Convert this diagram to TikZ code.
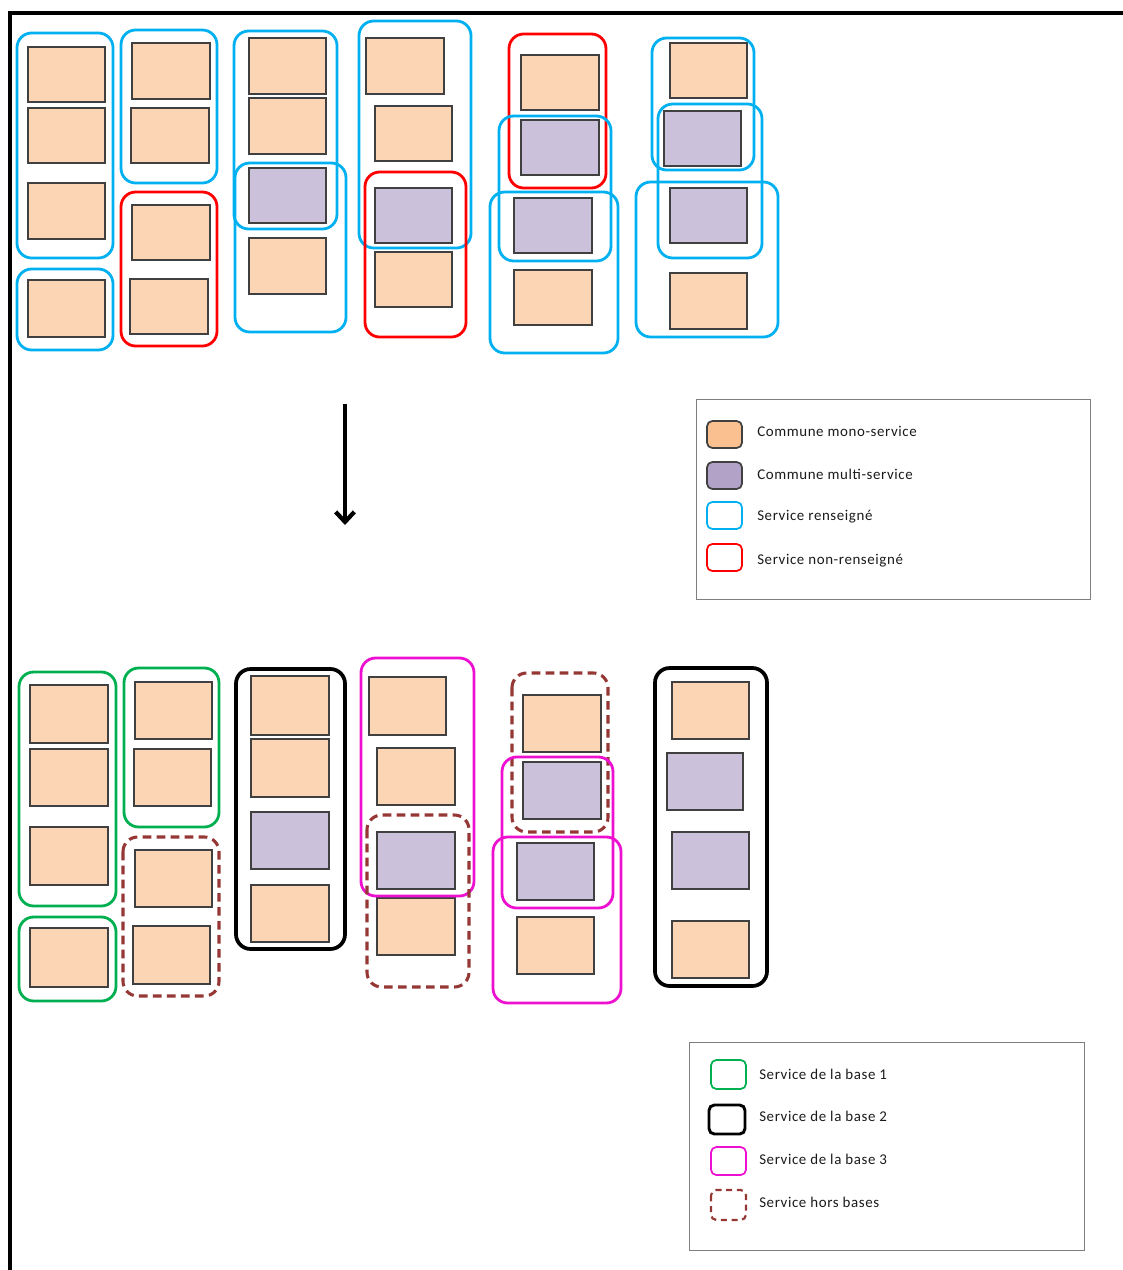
\documentclass[tikz,border=0pt]{standalone}
\usepackage{fontspec}
\setmainfont{Carlito}[LetterSpace=4]
\usetikzlibrary{arrows.meta}
\definecolor{peach}{HTML}{FCD5B5}
\definecolor{lilac}{HTML}{CCC1DA}
\definecolor{peachL}{HTML}{FAC090}
\definecolor{lilacL}{HTML}{B3A2C7}
\definecolor{rectline}{HTML}{404040}
\definecolor{skyb}{HTML}{00B0F0}
\definecolor{redr}{HTML}{FF0000}
\definecolor{greeng}{HTML}{00B050}
\definecolor{magm}{HTML}{EE10D0}
\definecolor{brownd}{HTML}{953735}
\definecolor{legline}{HTML}{7F7F7F}
\definecolor{txt}{HTML}{1A1A1A}
\tikzset{
  mono/.style={fill=peach, draw=rectline, line width=0.8pt},
  multi/.style={fill=lilac, draw=rectline, line width=0.8pt},
  grp/.style={rounded corners=11pt, line width=2.1pt},
  blueg/.style={grp, draw=skyb},
  redg/.style={grp, draw=redr},
  greeng/.style={grp, draw=greeng},
  blackg/.style={grp, draw=black, line width=2.8pt},
  magg/.style={grp, draw=magm},
  dashg/.style={grp, draw=brownd, line width=2.3pt, dash pattern=on 6.5pt off 4pt},
  legbox/.style={draw=legline, line width=1pt},
  sw/.style={rounded corners=4pt, line width=1.3pt},
  legtxt/.style={anchor=west, font=\fontsize{11.2}{13}\selectfont, text=txt, inner sep=0pt},
}
\begin{document}
\begin{tikzpicture}[x=0.75pt, y=-0.75pt]
\useasboundingbox (0,0) rectangle (1123,1270);
% frame
\draw[line width=3pt] (10,1270) -- (10,13) -- (1123,13);

% ===== top section =====
% column 1
\draw[mono] (28,47) rectangle (105,102);
\draw[mono] (28,108) rectangle (105,163);
\draw[mono] (28,183) rectangle (105,239);
\draw[mono] (28,280) rectangle (105,337);
\draw[blueg] (17,33) rectangle (113,258);
\draw[blueg] (17,269) rectangle (113,350);
% column 2
\draw[mono] (132,43) rectangle (210,99);
\draw[mono] (131,108) rectangle (209,163);
\draw[mono] (132,205) rectangle (210,260);
\draw[mono] (130,279) rectangle (208,334);
\draw[blueg] (121,30) rectangle (217,183);
\draw[redg] (121,192) rectangle (217,346);
% column 3
\draw[mono] (249,38) rectangle (326,94);
\draw[mono] (249,98) rectangle (326,154);
\draw[multi] (249,168) rectangle (326,223);
\draw[mono] (249,238) rectangle (326,294);
\draw[blueg] (234,31) rectangle (337,229);
\draw[blueg] (235,163) rectangle (346,332);
% column 4
\draw[mono] (366,38) rectangle (444,94);
\draw[mono] (375,106) rectangle (452,161);
\draw[multi] (375,188) rectangle (452,243);
\draw[mono] (375,252) rectangle (452,307);
\draw[blueg] (359,21) rectangle (471,248);
\draw[redg] (365,172) rectangle (466,337);
% column 5
\draw[mono] (521,55) rectangle (599,110);
\draw[multi] (521,120) rectangle (599,175);
\draw[multi] (514,198) rectangle (592,253);
\draw[mono] (514,270) rectangle (592,325);
\draw[redg] (509,34) rectangle (606,188);
\draw[blueg] (499,116) rectangle (611,261);
\draw[blueg] (490,192) rectangle (618,353);
% column 6
\draw[mono] (670,43) rectangle (747,98);
\draw[multi] (664,111) rectangle (741,166);
\draw[multi] (670,188) rectangle (747,243);
\draw[mono] (670,273) rectangle (747,329);
\draw[blueg] (652,38) rectangle (754,170);
\draw[blueg] (658,104) rectangle (762,258);
\draw[blueg] (636,182) rectangle (778,337);

% arrow
\coordinate (arrA) at (345,404);
\coordinate (arrB) at (345,525);
\draw[line width=3.2pt, -{Straight Barb[length=7.5pt,width=14pt]}] (arrA) -- (arrB);

% legend 1
\node[legbox, minimum width=394*0.75pt, minimum height=200*0.75pt, inner sep=0pt, anchor=north west] (leg1) at (696,399) {};
\draw[sw, fill=peachL, draw=rectline] (707,421) rectangle (742,448);
\draw[sw, fill=lilacL, draw=rectline] (707,462) rectangle (742,489);
\draw[sw, draw=skyb] (707,502) rectangle (742,529);
\draw[sw, draw=redr] (707,544) rectangle (742,571);
\node[legtxt] (l1a) at (757,431) {Commune mono-service};
\node[legtxt] (l1b) at (757,474) {Commune multi-service};
\node[legtxt] (l1c) at (757,517) {Service renseigné};
\node[legtxt] (l1d) at (757,561) {Service non-renseigné};

% ===== bottom section =====
% column 1
\draw[mono] (30,685) rectangle (108,743);
\draw[mono] (30,749) rectangle (108,806);
\draw[mono] (30,827) rectangle (108,885);
\draw[mono] (30,928) rectangle (108,987);
\draw[greeng] (19,672) rectangle (116,906);
\draw[greeng] (19,917) rectangle (116,1001);
% column 2
\draw[mono] (135,682) rectangle (212,739);
\draw[mono] (134,749) rectangle (211,806);
\draw[mono] (135,850) rectangle (212,907);
\draw[mono] (133,926) rectangle (210,984);
\draw[greeng] (124,668) rectangle (219,827);
\draw[dashg] (123,837) rectangle (219,996);
% column 3
\draw[mono] (251,676) rectangle (329,735);
\draw[mono] (251,739) rectangle (329,797);
\draw[multi] (251,812) rectangle (329,869);
\draw[mono] (251,885) rectangle (329,942);
\draw[blackg] (236,669) rectangle (345,949);
% column 4
\draw[mono] (369,677) rectangle (446,735);
\draw[mono] (377,748) rectangle (455,805);
\draw[multi] (377,832) rectangle (455,889);
\draw[mono] (377,898) rectangle (455,955);
\draw[magg] (361,658) rectangle (474,896);
\draw[dashg] (367,815) rectangle (469,987);
% column 5
\draw[mono] (523,695) rectangle (601,752);
\draw[multi] (523,762) rectangle (601,819);
\draw[multi] (517,843) rectangle (594,900);
\draw[mono] (517,917) rectangle (594,974);
\draw[dashg] (512,673) rectangle (608,832);
\draw[magg] (502,757) rectangle (613,908);
\draw[magg] (493,837) rectangle (621,1003);
% column 6
\draw[mono] (672,682) rectangle (749,739);
\draw[multi] (667,753) rectangle (743,810);
\draw[multi] (672,832) rectangle (749,889);
\draw[mono] (672,921) rectangle (749,978);
\draw[blackg] (655,668) rectangle (767,986);

% legend 2
\node[legbox, minimum width=395*0.75pt, minimum height=208*0.75pt, inner sep=0pt, anchor=north west] (leg2) at (689,1042) {};
\draw[sw, draw=greeng] (711,1060) rectangle (746,1089);
\draw[sw, draw=black, line width=2.2pt] (709,1105) rectangle (745,1134);
\draw[sw, draw=magm] (711,1147) rectangle (746,1175);
\draw[sw, draw=brownd, line width=1.6pt, dash pattern=on 4.5pt off 3.5pt] (711,1190) rectangle (746,1220);
\node[legtxt] (l2a) at (759,1074) {Service de la base 1};
\node[legtxt] (l2b) at (759,1116) {Service de la base 2};
\node[legtxt] (l2c) at (759,1159) {Service de la base 3};
\node[legtxt] (l2d) at (759,1202) {Service hors bases};
\end{tikzpicture}
\end{document}
